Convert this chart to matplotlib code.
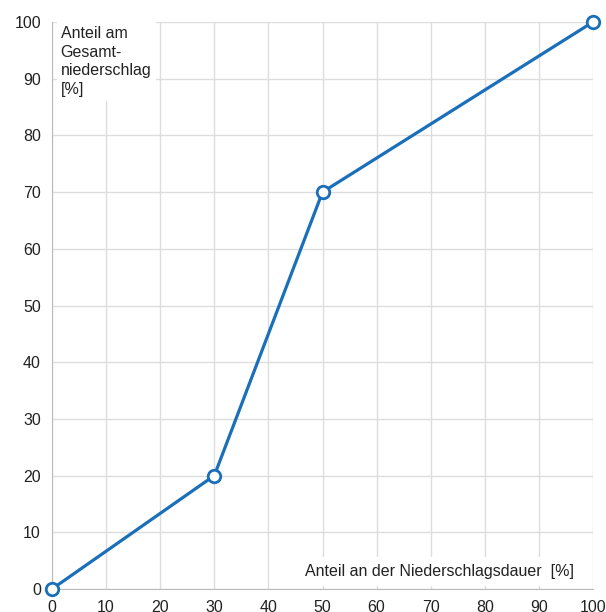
import matplotlib.pyplot as plt

plt.rcParams['font.family'] = ['Liberation Sans', 'DejaVu Sans']

# Summenlinie: Anteil Niederschlagsdauer vs. Anteil Gesamtniederschlag
dauer = [0, 30, 50, 100]
anteil = [0, 20, 70, 100]
ticks = list(range(0, 101, 10))

fig = plt.figure(figsize=(6.06, 6.12), dpi=100)
ax = fig.add_axes([52 / 606, 23 / 612, 541 / 606, 567 / 612])

ax.plot(dauer, anteil, color='#1a6fba', linewidth=2.3, marker='o',
        markersize=9, markerfacecolor='white', markeredgecolor='#1a6fba',
        markeredgewidth=2, clip_on=False, zorder=5)

ax.set_xlim(0, 100)
ax.set_ylim(0, 100)
ax.set_xticks(ticks)
ax.set_yticks(ticks)
ax.grid(True, color='#dddddd', linewidth=1)
ax.set_axisbelow(True)
for s in ['top', 'right']:
    ax.spines[s].set_visible(False)
for s in ['left', 'bottom']:
    ax.spines[s].set_color('#bbbbbb')
ax.tick_params(length=0, labelsize=11.5, colors='#222222', pad=8)

ax.text(1.6, 99.3, 'Anteil am\nGesamt-\nniederschlag\n[%]', fontsize=11.5,
        va='top', ha='left', linespacing=1.3, color='#222222',
        bbox=dict(facecolor='white', edgecolor='none', pad=3), zorder=4)
ax.text(96.5, 1.8, 'Anteil an der Niederschlagsdauer  [%]', fontsize=11.5,
        va='bottom', ha='right', color='#222222',
        bbox=dict(facecolor='white', edgecolor='none', pad=5), zorder=4)

fig.savefig('out.png', dpi=100)
